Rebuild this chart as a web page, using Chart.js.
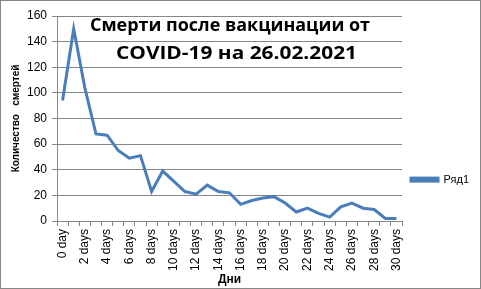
<!DOCTYPE html>
<html>
<head>
<meta charset="utf-8">
<script src="https://cdn.jsdelivr.net/npm/chart.js@4/dist/chart.umd.min.js"></script>
<style>
html,body{margin:0;padding:0;background:#fff;}
#wrap{width:481px;height:289px;position:relative;}
</style>
</head>
<body>
<div id="wrap"><canvas id="c" width="481" height="289"></canvas></div>
<script>
const categories = ['0 day','1 days','2 days','3 days','4 days','5 days','6 days','7 days','8 days','9 days','10 days','11 days','12 days','13 days','14 days','15 days','16 days','17 days','18 days','19 days','20 days','21 days','22 days','23 days','24 days','25 days','26 days','27 days','28 days','29 days','30 days'];
const deaths = [94,150,104,68,67,55,49,51,23,39,31,23,21,28,23,22,13,16,18,19,14,7,10,6,3,11,14,10,9,2,2];
const seriesName = 'Ряд1';
const titleLines = ['Смерти после вакцинации от','COVID-19 на 26.02.2021'];
const yTitle = 'Количество   смертей';
const xTitle = 'Дни';

function drawFitted(ctx, text, cx, baseY, width) {
  const sx = width / ctx.measureText(text).width;
  ctx.save();
  ctx.translate(cx, baseY);
  ctx.scale(sx, 1);
  ctx.fillText(text, 0, 0);
  ctx.restore();
}

const overlayPlugin = {
  id: 'overlay',
  afterLayout(chart) {
    const lg = chart.legend;
    if (lg) { lg.left += 3; lg.right += 3; }
  },
  afterDraw(chart) {
    const ctx = chart.ctx;
    ctx.save();
    ctx.strokeStyle = '#868686';
    ctx.lineWidth = 1;
    ctx.strokeRect(0.5, 0.5, chart.width - 1, chart.height - 1);
    ctx.fillStyle = '#000';
    ctx.font = 'bold 17px "Open Sans"';
    ctx.textAlign = 'center';
    ctx.textBaseline = 'alphabetic';
    drawFitted(ctx, titleLines[0], 230, 31, 280);
    drawFitted(ctx, titleLines[1], 236.5, 59, 241);
    ctx.restore();
  }
};

new Chart(document.getElementById('c'), {
  type: 'line',
  data: {
    labels: categories,
    datasets: [{
      label: seriesName,
      data: deaths,
      borderColor: '#4a7ebb',
      backgroundColor: '#4a7ebb',
      borderWidth: 3,
      pointRadius: 0,
      tension: 0,
      fill: false
    }]
  },
  options: {
    responsive: false,
    animation: false,
    devicePixelRatio: 1,
    layout: { padding: { left: 10, top: 16, right: 5, bottom: 2 } },
    plugins: {
      tooltip: { enabled: false },
      legend: {
        position: 'right',
        title: { display: true, text: '', padding: { top: 0, bottom: 43 }, font: { size: 11 } },
        labels: {
          boxWidth: 27,
          boxHeight: 3,
          padding: 6,
          color: '#000',
          font: { family: 'Liberation Sans', size: 11 }
        }
      }
    },
    scales: {
      x: {
        type: 'category',
        offset: true,
        grid: { display: true, drawOnChartArea: false, drawTicks: true, tickLength: 5, offset: true, color: '#868686' },
        border: { display: true, color: '#868686' },
        ticks: {
          autoSkip: false,
          minRotation: 90,
          maxRotation: 90,
          padding: 3,
          color: '#000',
          font: { family: 'Liberation Sans', size: 12 },
          callback: function(v, i) { return i % 2 === 0 ? categories[i] : ''; }
        },
        title: { display: true, text: xTitle, color: '#000', font: { family: 'Liberation Sans', size: 12, weight: 'bold' }, padding: { top: 0, bottom: 0 } },
        afterFit: function(s) { s.height = 66; }
      },
      y: {
        min: 0,
        max: 160,
        grid: { color: '#868686', tickLength: 5 },
        border: { display: true, color: '#868686' },
        ticks: {
          stepSize: 20,
          padding: 5,
          color: '#000',
          font: { family: 'Liberation Sans', size: 12 }
        },
        title: { display: true, text: yTitle, color: '#000', font: { family: 'Liberation Sans', size: 10, weight: 'bold' }, padding: { top: 0, bottom: 8 } },
        afterFit: function(s) { s.width = 47; }
      }
    }
  },
  plugins: [overlayPlugin]
});
</script>
</body>
</html>
